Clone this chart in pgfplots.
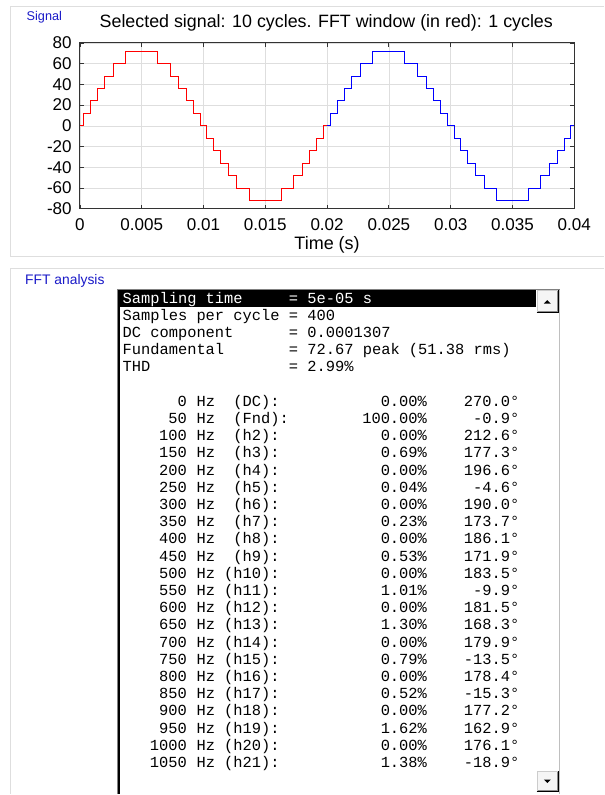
\documentclass[border=0pt]{standalone}
\usepackage{pgfplots}
\pgfplotsset{compat=1.18}
\usepackage{fontspec}
\setmainfont{Liberation Sans}
\newfontfamily\lbmono{Liberation Mono}
\definecolor{paneltxt}{RGB}{25,25,200}
\definecolor{panelframe}{RGB}{222,222,222}
\newcommand\listfont{\lbmono\fontsize{11.56}{13}\selectfont}

\begin{document}
\begin{tikzpicture}
% background and panel frames (1 unit = 1 px of the reference)
\begin{scope}[x=0.75pt,y=-0.75pt]
  \useasboundingbox (0,0) rectangle (605,795);
  \fill[white] (0,0) rectangle (605,795);
  \draw[panelframe] (605,6.5) -- (10.5,6.5) -- (10.5,256.5) -- (605,256.5);
  \draw[panelframe] (605,268.5) -- (10.5,268.5) -- (10.5,795);
  \node[anchor=base west, inner sep=0pt, text=paneltxt, font=\fontsize{9.5}{11}\selectfont] at (26.5,20.5) {Signal};
  \node[anchor=base west, inner sep=0pt, text=paneltxt, font=\fontsize{10.4}{12}\selectfont] at (25,284.5) {FFT analysis};
  \node[anchor=base, inner sep=0pt, font=\fontsize{13.4}{15}\selectfont] at (326.7,28) {Selected signal: 10 cycles. FFT window (in red): 1 cycles};
\end{scope}

\begin{axis}[
    at={(60pt,-156.75pt)}, anchor=south west,
    width=371.25pt, height=124.5pt, scale only axis,
    xmin=0, xmax=0.04, ymin=-80, ymax=80,
    scaled x ticks=false, scaled y ticks=false,
    xtick={0,0.005,0.01,0.015,0.02,0.025,0.03,0.035,0.04},
    xticklabels={0,0.005,0.01,0.015,0.02,0.025,0.03,0.035,0.04},
    ytick={-80,-60,-40,-20,0,20,40,60,80},
    yticklabels={-80,-60,-40,-20,0,20,40,60,80},
    grid=major, grid style={black!13, line width=0.5pt},
    axis line style={black!80, line width=0.7pt},
    tick style={black!80, line width=0.6pt},
    tick align=inside, major tick length=3pt,
    tick label style={font=\fontsize{12.8}{14}\selectfont, inner sep=0pt},
    yticklabel style={anchor=east, xshift=-6pt},
    xticklabel style={anchor=north, yshift=-7pt},
    xlabel={Time (s)},
    xlabel style={font=\fontsize{13.5}{15}\selectfont, at={(axis description cs:0.5,0)}, anchor=north, yshift=-20.5pt, inner sep=0pt},
]
% FFT window (first cycle)
\addplot[const plot, red, line width=0.75pt] coordinates {
    (0,0) (0.00027,12) (0.00083,24) (0.00139,36) (0.00199,48) (0.00270,60) (0.00370,72)
    (0.00630,60) (0.00730,48) (0.00801,36) (0.00861,24) (0.00917,12) (0.00973,0)
    (0.01027,-12) (0.01083,-24) (0.01139,-36) (0.01199,-48) (0.01270,-60) (0.01370,-72)
    (0.01630,-60) (0.01730,-48) (0.01801,-36) (0.01861,-24) (0.01917,-12) (0.01973,0) (0.02,0)
};
% rest of the selected signal
\addplot[const plot, blue, line width=0.75pt] coordinates {
    (0.02,0) (0.02027,12) (0.02083,24) (0.02139,36) (0.02199,48) (0.02270,60) (0.02370,72)
    (0.02630,60) (0.02730,48) (0.02801,36) (0.02861,24) (0.02917,12) (0.02973,0)
    (0.03027,-12) (0.03083,-24) (0.03139,-36) (0.03199,-48) (0.03270,-60) (0.03370,-72)
    (0.03630,-60) (0.03730,-48) (0.03801,-36) (0.03861,-24) (0.03917,-12) (0.03973,0) (0.04,0)
};
\end{axis}

% FFT analysis list box
\begin{scope}[x=0.75pt,y=-0.75pt]
  \fill[white] (118,290) rectangle (560,795);
  \draw[gray, line width=0.75pt] (117.5,795) -- (117.5,289.5) -- (560.5,289.5);
  \draw[black, line width=1.5pt] (119.2,795) -- (119.2,291) -- (537,291);
  \draw[black!25, line width=0.75pt] (560,290) -- (560,795);
  % highlighted first line
  \fill[black] (119,290.5) rectangle (537,307.8);
  % scroll buttons
  \foreach \yt/\yb in {290/313.3, 771.7/793.3} {
    \fill[black!4] (537.3,\yt) rectangle (559.3,\yb);
    \draw[black!20, line width=0.75pt] (537.7,\yb) -- (537.7,\yt+0.4) -- (559.3,\yt+0.4);
    \draw[black, line width=0.75pt] (537.3,\yb-0.4) -- (558.9,\yb-0.4) -- (558.9,\yt);
    \draw[black!45, line width=0.75pt] (538.5,\yb-1.4) -- (557.9,\yb-1.4) -- (557.9,\yt+1);
  }
  \fill[black] (544.5,304) -- (551.5,304) -- (548,300.5) -- cycle;
  \fill[black] (544.5,780.5) -- (551.5,780.5) -- (548,784) -- cycle;
  % header lines
  \foreach \k/\lab/\val/\col in {0/Sampling time/= 5e-05 s/white,
      1/Samples per cycle/= 400/black,
      2/DC component/= 0.0001307/black,
      3/Fundamental/= 72.67 peak (51.38 rms)/black,
      4/THD/= 2.99\%/black} {
    \node[anchor=base west, inner sep=0pt, text=\col, font=\listfont] at (122.5,{303.5+\k*17.22}) {\lab};
    \node[anchor=base west, inner sep=0pt, text=\col, font=\listfont] at ({122.5+18*9.25},{303.5+\k*17.22}) {\val};
  }
  % harmonics: row / frequency / label / label column / magnitude (% of fundamental) / phase
  \foreach \k/\f/\h/\c/\p/\a in {
      6/0/(DC):/12/0.00/270.0,
      7/50/(Fnd):/12/100.00/-0.9,
      8/100/(h2):/12/0.00/212.6,
      9/150/(h3):/12/0.69/177.3,
      10/200/(h4):/12/0.00/196.6,
      11/250/(h5):/12/0.04/-4.6,
      12/300/(h6):/12/0.00/190.0,
      13/350/(h7):/12/0.23/173.7,
      14/400/(h8):/12/0.00/186.1,
      15/450/(h9):/12/0.53/171.9,
      16/500/(h10):/11/0.00/183.5,
      17/550/(h11):/11/1.01/-9.9,
      18/600/(h12):/11/0.00/181.5,
      19/650/(h13):/11/1.30/168.3,
      20/700/(h14):/11/0.00/179.9,
      21/750/(h15):/11/0.79/-13.5,
      22/800/(h16):/11/0.00/178.4,
      23/850/(h17):/11/0.52/-15.3,
      24/900/(h18):/11/0.00/177.2,
      25/950/(h19):/11/1.62/162.9,
      26/1000/(h20):/11/0.00/176.1,
      27/1050/(h21):/11/1.38/-18.9} {
    \node[anchor=base east, inner sep=0pt, font=\listfont] at ({122.5+7*9.25},{303.5+\k*17.22}) {\f};
    \node[anchor=base west, inner sep=0pt, font=\listfont] at ({122.5+8*9.25},{303.5+\k*17.22}) {Hz};
    \node[anchor=base west, inner sep=0pt, font=\listfont] at ({122.5+\c*9.25},{303.5+\k*17.22}) {\h};
    \node[anchor=base east, inner sep=0pt, font=\listfont] at ({122.5+33*9.25},{303.5+\k*17.22}) {\p\%};
    \node[anchor=base east, inner sep=0pt, font=\listfont] at ({122.5+43*9.25},{303.5+\k*17.22}) {\a°};
  }
\end{scope}
\end{tikzpicture}
\end{document}
